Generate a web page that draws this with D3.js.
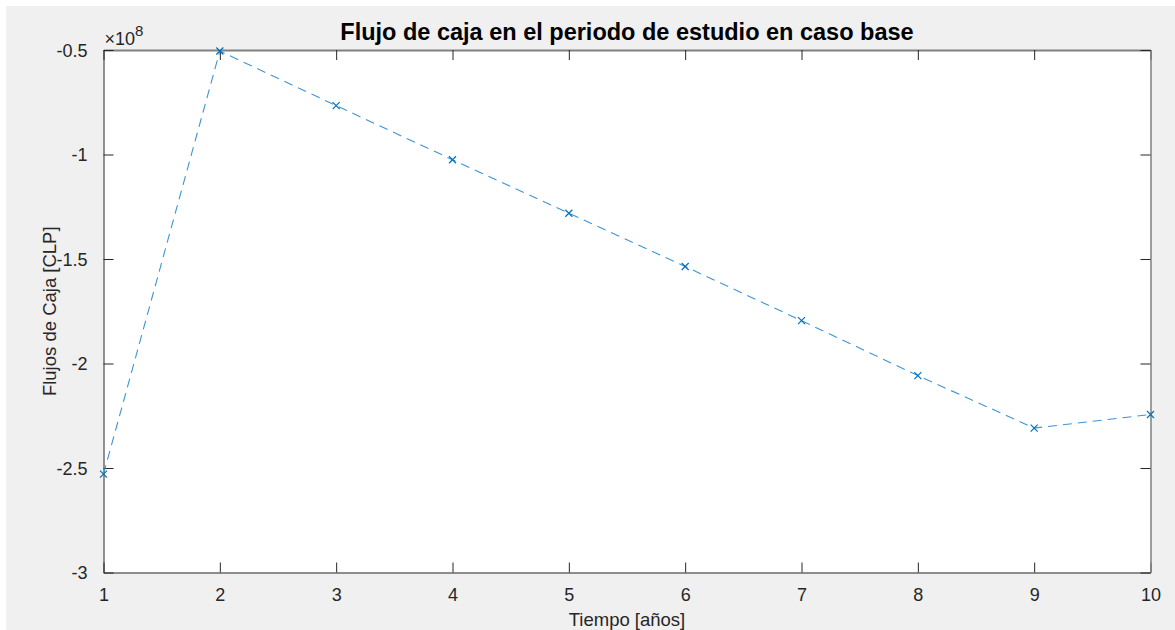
<!DOCTYPE html>
<html>
<head>
<meta charset="utf-8">
<script src="https://cdn.jsdelivr.net/npm/d3@7"></script>
<style>
  body { margin: 0; background: #fff; }
  text { font-family: "Liberation Sans", Arial, sans-serif; fill: #262626; }
</style>
</head>
<body>
<div id="chart"></div>
<script>
// datos (CLP)
var years = [1, 2, 3, 4, 5, 6, 7, 8, 9, 10];
var flows = [-2.529e8, -0.505e8, -0.766e8, -1.025e8, -1.281e8, -1.536e8, -1.795e8, -2.058e8, -2.309e8, -2.244e8];
var yTicks = [-3e8, -2.5e8, -2e8, -1.5e8, -1e8, -0.5e8];
var xTicks = [1, 2, 3, 4, 5, 6, 7, 8, 9, 10];

var W = 1175, H = 630;
var mLeft = 103.5, mRight = 1150.5, mTop = 50, mBottom = 572.5;

var svg = d3.select("#chart").append("svg").attr("width", W).attr("height", H);
svg.append("rect").attr("x", 6).attr("y", 6).attr("width", W - 6).attr("height", H - 6).attr("fill", "#f0f0f0");
svg.append("rect").attr("x", mLeft).attr("y", mTop).attr("width", mRight - mLeft).attr("height", mBottom - mTop).attr("fill", "#fff");

var x = d3.scaleLinear().domain([1, 10]).range([mLeft, mRight]);
var y = d3.scaleLinear().domain([-3e8, -0.5e8]).range([mBottom, mTop]);

// ejes con ticks hacia adentro en los cuatro lados
var fmtY = function(d) { return String(+(d / 1e8).toFixed(1)); };

var gB = svg.append("g").attr("transform", "translate(0," + mBottom + ")")
  .call(d3.axisBottom(x).tickValues(xTicks).tickSizeInner(-10).tickSizeOuter(0).tickPadding(16));
var gT = svg.append("g").attr("transform", "translate(0," + mTop + ")")
  .call(d3.axisTop(x).tickValues(xTicks).tickSizeInner(-10).tickSizeOuter(0).tickFormat(""));
var gL = svg.append("g").attr("transform", "translate(" + mLeft + ",0)")
  .call(d3.axisLeft(y).tickValues(yTicks).tickSizeInner(-10).tickSizeOuter(0).tickPadding(16).tickFormat(fmtY));
var gR = svg.append("g").attr("transform", "translate(" + mRight + ",0)")
  .call(d3.axisRight(y).tickValues(yTicks).tickSizeInner(-10).tickSizeOuter(0).tickFormat(""));

[gB, gT, gL, gR].forEach(function(g) {
  g.select(".domain").attr("stroke", "#262626").attr("stroke-width", 1);
  g.selectAll(".tick line").attr("stroke", "#262626");
  g.selectAll(".tick text").style("font-size", "18px").attr("fill", "#262626");
});
gT.select(".domain").attr("stroke", "#808080").attr("stroke-width", 2);
gR.select(".domain").attr("stroke", "#808080").attr("stroke-width", 1.5);
gL.selectAll(".tick text").attr("dy", "0.35em");
gB.selectAll(".tick text").attr("dy", "0.71em");

// linea discontinua
var line = d3.line().x(function(d, i) { return x(years[i]); }).y(function(d) { return y(d); });
svg.append("path").datum(flows).attr("d", line)
  .attr("fill", "none").attr("stroke", "#3d95d4").attr("stroke-width", 1.1)
  .attr("stroke-dasharray", "9,6");

// marcadores x
var s = 3.5;
svg.selectAll(".mk").data(flows).enter().append("path").attr("class", "mk")
  .attr("d", function(d, i) {
    var cx = x(years[i]), cy = y(d);
    return "M" + (cx - s) + "," + (cy - s) + "L" + (cx + s) + "," + (cy + s) +
           "M" + (cx - s) + "," + (cy + s) + "L" + (cx + s) + "," + (cy - s);
  })
  .attr("stroke", "#0072bd").attr("stroke-width", 1.2).attr("fill", "none");

// exponente
var ex = svg.append("text").attr("x", mLeft + 1).attr("y", 45).style("font-size", "18px").attr("fill", "#404040");
ex.append("tspan").text("\u00d710");
ex.append("tspan").attr("dy", -9).style("font-size", "15px").text("8");

// titulos
svg.append("text").attr("x", (mLeft + mRight) / 2).attr("y", 40).attr("text-anchor", "middle")
  .style("font-size", "23.5px").style("font-weight", "bold").style("fill", "#000")
  .text("Flujo de caja en el periodo de estudio en caso base");
svg.append("text").attr("x", (mLeft + mRight) / 2).attr("y", 626).attr("text-anchor", "middle")
  .style("font-size", "18.5px").text("Tiempo [años]");
svg.append("text").attr("transform", "translate(56," + ((mTop + mBottom) / 2) + ") rotate(-90)")
  .attr("text-anchor", "middle").style("font-size", "18.5px").text("Flujos de Caja [CLP]");
</script>
</body>
</html>
